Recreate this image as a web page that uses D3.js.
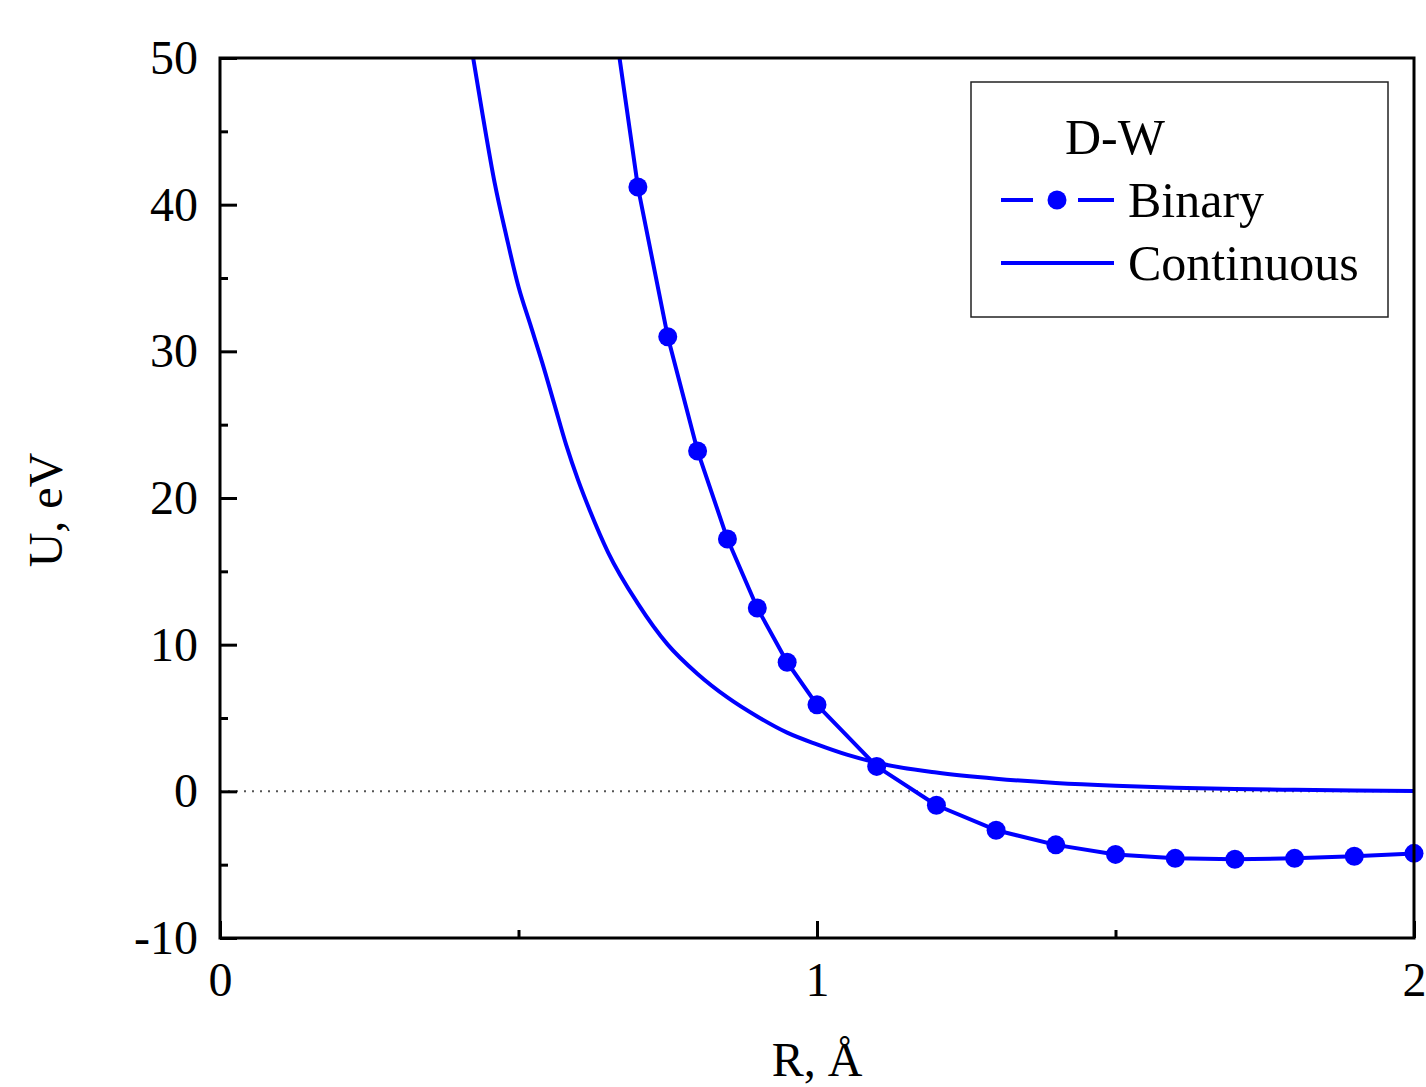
<!DOCTYPE html>
<html>
<head>
<meta charset="utf-8">
<script src="https://cdn.jsdelivr.net/npm/d3@7"></script>
<style>
  body { margin: 0; background: #fff; }
  text { font-family: "Liberation Serif", "Times New Roman", serif; }
</style>
</head>
<body>
<div id="chart"></div>
<script>
// D-W potential, binary vs continuous
var binaryR = [0.65, 0.7, 0.75, 0.8, 0.85, 0.9, 0.95, 1.0, 1.1, 1.2, 1.3, 1.4, 1.5, 1.6, 1.7, 1.8, 1.9, 2.0];
var binaryU = [55.5, 41.2, 31.0, 23.2, 17.2, 12.5, 8.8, 5.9, 1.7, -0.95, -2.65, -3.65, -4.3, -4.57, -4.63, -4.57, -4.43, -4.23];

var contR = [0.42, 0.44, 0.46, 0.48, 0.50, 0.52, 0.54, 0.56, 0.58, 0.60, 0.62, 0.65, 0.70, 0.75, 0.80, 0.85, 0.90, 0.95, 1.0, 1.05, 1.1, 1.2, 1.3, 1.4, 1.5, 1.6, 1.7, 1.8, 1.9, 2.0];
var contU = [51.0, 46.1, 41.5, 37.8, 34.4, 31.8, 29.2, 26.4, 23.6, 21.2, 19.1, 16.3, 12.8, 10.0, 8.0, 6.4, 5.1, 4.0, 3.2, 2.5, 1.95, 1.28, 0.86, 0.57, 0.38, 0.25, 0.16, 0.1, 0.05, 0.02];

var yMajorTicks = [-10, 0, 10, 20, 30, 40, 50];
var yMinorTicks = [-5, 5, 15, 25, 35, 45];
var xMajorTicks = [0, 1, 2];
var xMinorTicks = [0.5, 1.5];

var legendTitle = "D-W";
var seriesNames = ["Binary", "Continuous"];

var margin = {top: 58, right: 12, bottom: 149, left: 220};
var width = 1426 - margin.left - margin.right;
var height = 1087 - margin.top - margin.bottom;
var blue = "#0000ff";

var svg = d3.select("#chart")
    .append("svg")
    .attr("width", 1426)
    .attr("height", 1087);

var g = svg.append("g")
    .attr("transform", "translate(" + margin.left + "," + margin.top + ")");

var x = d3.scaleLinear().domain([0, 2]).range([0, width]);
var y = d3.scaleLinear().domain([-10, 50]).range([height, 0]);

g.append("clipPath")
    .attr("id", "plotClip")
    .append("rect")
    .attr("x", 0).attr("y", 0)
    .attr("width", width).attr("height", height);

// zero reference line
g.append("line")
    .attr("x1", 0).attr("x2", width)
    .attr("y1", y(0)).attr("y2", y(0))
    .attr("stroke", "#555")
    .attr("stroke-width", 2)
    .attr("stroke-dasharray", "2,6");

var binaryData = binaryR.map(function(r, i) { return {r: r, u: binaryU[i]}; });
var contData = contR.map(function(r, i) { return {r: r, u: contU[i]}; });

var line = d3.line()
    .x(function(d) { return x(d.r); })
    .y(function(d) { return y(d.u); });

var smoothLine = d3.line()
    .curve(d3.curveMonotoneX)
    .x(function(d) { return x(d.r); })
    .y(function(d) { return y(d.u); });

var plot = g.append("g").attr("clip-path", "url(#plotClip)");

plot.append("path")
    .datum(contData)
    .attr("fill", "none")
    .attr("stroke", blue)
    .attr("stroke-width", 4)
    .attr("stroke-linejoin", "round")
    .attr("d", smoothLine);

plot.append("path")
    .datum(binaryData)
    .attr("fill", "none")
    .attr("stroke", blue)
    .attr("stroke-width", 4)
    .attr("stroke-linejoin", "round")
    .attr("d", line);

g.append("g")
    .selectAll("circle")
    .data(binaryData.filter(function(d) { return d.u <= 50; }))
    .enter().append("circle")
    .attr("cx", function(d) { return x(d.r); })
    .attr("cy", function(d) { return y(d.u); })
    .attr("r", 9.5)
    .attr("fill", blue);

// frame
g.append("rect")
    .attr("x", 0).attr("y", 0)
    .attr("width", width).attr("height", height)
    .attr("fill", "none")
    .attr("stroke", "#000")
    .attr("stroke-width", 3);

// axes, ticks pointing inward
var plainFormat = function(d) { return String(d); };

var yAxis = g.append("g")
    .call(d3.axisLeft(y).tickValues(yMajorTicks).tickSize(-17).tickPadding(22).tickFormat(plainFormat));
yAxis.select(".domain").remove();
yAxis.selectAll("line").attr("stroke-width", 3);
yAxis.selectAll("text").style("font-size", "48px").attr("fill", "#000")
    .attr("font-family", "Liberation Serif, serif");

var yMinor = g.append("g")
    .call(d3.axisLeft(y).tickValues(yMinorTicks).tickSize(-8).tickFormat(""));
yMinor.select(".domain").remove();
yMinor.selectAll("line").attr("stroke-width", 3);

var xAxis = g.append("g")
    .attr("transform", "translate(0," + height + ")")
    .call(d3.axisBottom(x).tickValues(xMajorTicks).tickSize(-17).tickPadding(24).tickFormat(plainFormat));
xAxis.select(".domain").remove();
xAxis.selectAll("line").attr("stroke-width", 3);
xAxis.selectAll("text").style("font-size", "48px").attr("fill", "#000")
    .attr("font-family", "Liberation Serif, serif");

var xMinor = g.append("g")
    .attr("transform", "translate(0," + height + ")")
    .call(d3.axisBottom(x).tickValues(xMinorTicks).tickSize(-8).tickFormat(""));
xMinor.select(".domain").remove();
xMinor.selectAll("line").attr("stroke-width", 3);

// axis titles
svg.append("text")
    .attr("x", margin.left + x(1))
    .attr("y", 1076)
    .attr("text-anchor", "middle")
    .style("font-size", "48px")
    .text("R, Å");

svg.append("text")
    .attr("transform", "translate(62,510)rotate(-90)")
    .attr("text-anchor", "middle")
    .style("font-size", "48px")
    .text("U, eV");

// legend
var legend = svg.append("g").attr("transform", "translate(971,82)");
legend.append("rect")
    .attr("width", 417).attr("height", 235)
    .attr("fill", "#fff")
    .attr("stroke", "#222")
    .attr("stroke-width", 1.5);

legend.append("text")
    .attr("x", 94).attr("y", 72)
    .style("font-size", "50px")
    .text(legendTitle);

legend.append("line")
    .attr("x1", 30).attr("x2", 62).attr("y1", 118).attr("y2", 118)
    .attr("stroke", blue).attr("stroke-width", 4);
legend.append("line")
    .attr("x1", 107).attr("x2", 143).attr("y1", 118).attr("y2", 118)
    .attr("stroke", blue).attr("stroke-width", 4);
legend.append("circle")
    .attr("cx", 86).attr("cy", 118).attr("r", 9.5)
    .attr("fill", blue);
legend.append("line")
    .attr("x1", 30).attr("x2", 143).attr("y1", 181).attr("y2", 181)
    .attr("stroke", blue).attr("stroke-width", 4);

legend.selectAll("text.series")
    .data(seriesNames)
    .enter().append("text")
    .attr("class", "series")
    .attr("x", 157)
    .attr("y", function(d, i) { return 135 + i * 63; })
    .style("font-size", "50px")
    .text(function(d) { return d; });
</script>
</body>
</html>
